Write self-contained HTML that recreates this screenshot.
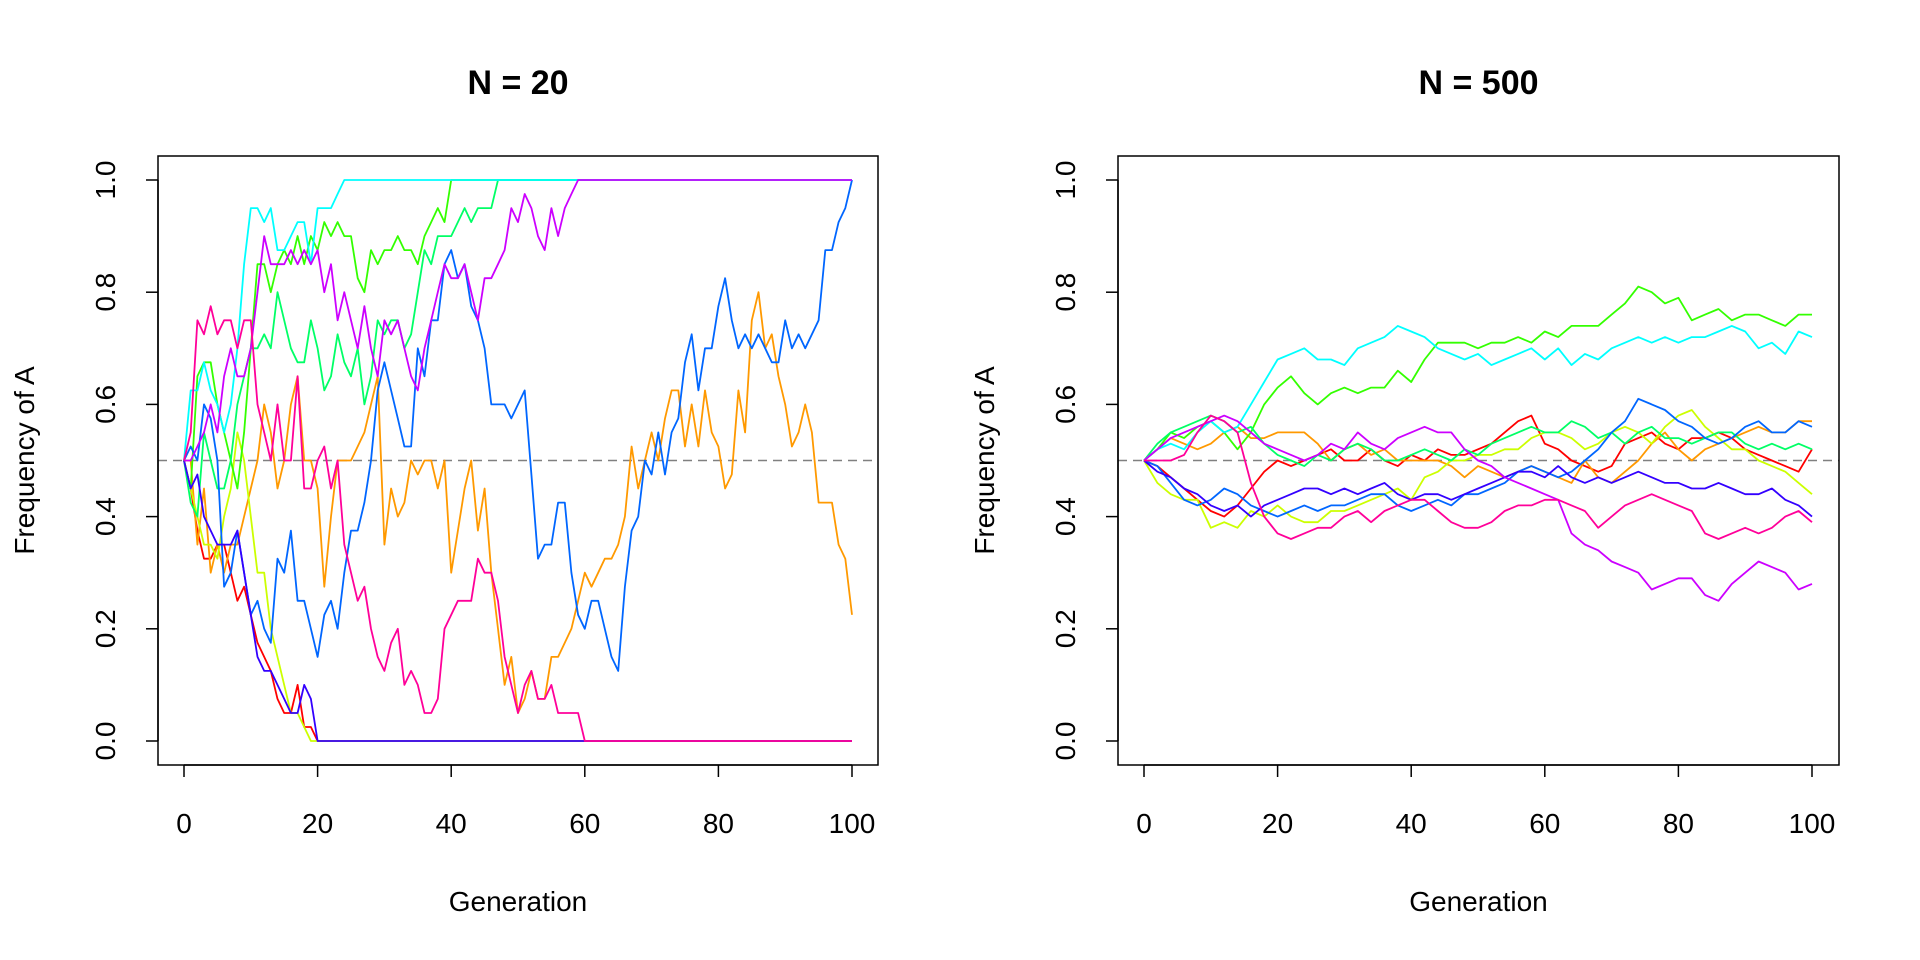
<!DOCTYPE html>
<html><head><meta charset="utf-8"><style>
html,body{margin:0;padding:0;background:#fff;}
svg{display:block;font-family:"Liberation Sans",sans-serif;}
</style></head><body>
<svg id="chart" width="1920" height="960" viewBox="0 0 1920 960"></svg>
<script>
const colors = ["#ff0000","#ff9900","#ccff00","#33ff00","#00ff66","#00ffff","#0066ff","#3300ff","#cc00ff","#ff0099"];
const xTicks = [0,20,40,60,80,100];
const yTicks = [0.0,0.2,0.4,0.6,0.8,1.0];
const yTickLabels = ["0.0","0.2","0.4","0.6","0.8","1.0"];
// Panel 1 (N=20): one value per generation; series reaching fixation hold at last value
const n20_red = [0.5,0.45,0.375,0.325,0.325,0.35,0.35,0.3,0.25,0.275,0.225,0.175,0.15,0.125,0.075,0.05,0.05,0.1,0.025,0.025,0];
const n20_orange = [0.5,0.5,0.35,0.45,0.3,0.35,0.3,0.35,0.35,0.4,0.45,0.5,0.6,0.55,0.45,0.5,0.6,0.65,0.5,0.5,0.45,0.275,0.4,0.5,0.5,0.5,0.525,0.55,0.6,0.65,0.35,0.45,0.4,0.425,0.5,0.475,0.5,0.5,0.45,0.5,0.3,0.375,0.45,0.5,0.375,0.45,0.3,0.2,0.1,0.15,0.05,0.075,0.125,0.075,0.075,0.15,0.15,0.175,0.2,0.25,0.3,0.275,0.3,0.325,0.325,0.35,0.4,0.525,0.45,0.5,0.55,0.5,0.575,0.625,0.625,0.525,0.6,0.525,0.625,0.55,0.525,0.45,0.475,0.625,0.55,0.75,0.8,0.7,0.725,0.65,0.6,0.525,0.55,0.6,0.55,0.425,0.425,0.425,0.35,0.325,0.225];
const n20_ygreen = [0.5,0.45,0.4,0.35,0.35,0.325,0.4,0.45,0.55,0.5,0.4,0.3,0.3,0.2,0.15,0.1,0.05,0.05,0.025,0];
const n20_green = [0.5,0.45,0.65,0.675,0.675,0.6,0.55,0.5,0.45,0.55,0.7,0.85,0.85,0.8,0.85,0.875,0.85,0.9,0.85,0.9,0.875,0.925,0.9,0.925,0.9,0.9,0.825,0.8,0.875,0.85,0.875,0.875,0.9,0.875,0.875,0.85,0.9,0.925,0.95,0.925,1];
const n20_mint = [0.5,0.425,0.4,0.55,0.5,0.45,0.45,0.5,0.6,0.65,0.7,0.7,0.725,0.7,0.8,0.75,0.7,0.675,0.675,0.75,0.7,0.625,0.65,0.725,0.675,0.65,0.7,0.6,0.65,0.75,0.725,0.75,0.75,0.7,0.725,0.8,0.875,0.85,0.9,0.9,0.9,0.925,0.95,0.925,0.95,0.95,0.95,1];
const n20_cyan = [0.5,0.625,0.625,0.675,0.625,0.6,0.55,0.6,0.7,0.85,0.95,0.95,0.925,0.95,0.875,0.875,0.9,0.925,0.925,0.85,0.95,0.95,0.95,0.975,1];
const n20_azure = [0.5,0.525,0.5,0.6,0.575,0.5,0.275,0.3,0.375,0.3,0.225,0.25,0.2,0.175,0.325,0.3,0.375,0.25,0.25,0.2,0.15,0.225,0.25,0.2,0.3,0.375,0.375,0.425,0.5,0.625,0.675,0.625,0.575,0.525,0.525,0.7,0.65,0.75,0.75,0.85,0.875,0.825,0.85,0.775,0.75,0.7,0.6,0.6,0.6,0.575,0.6,0.625,0.475,0.325,0.35,0.35,0.425,0.425,0.3,0.225,0.2,0.25,0.25,0.2,0.15,0.125,0.275,0.375,0.4,0.5,0.475,0.55,0.475,0.55,0.575,0.675,0.725,0.625,0.7,0.7,0.775,0.825,0.75,0.7,0.725,0.7,0.725,0.7,0.675,0.675,0.75,0.7,0.725,0.7,0.725,0.75,0.875,0.875,0.925,0.95,1.0];
const n20_indigo = [0.5,0.45,0.475,0.4,0.375,0.35,0.35,0.35,0.375,0.3,0.225,0.15,0.125,0.125,0.1,0.075,0.05,0.05,0.1,0.075,0,0];
const n20_purple = [0.5,0.5,0.525,0.55,0.6,0.55,0.65,0.7,0.65,0.65,0.7,0.8,0.9,0.85,0.85,0.85,0.875,0.85,0.875,0.85,0.875,0.8,0.85,0.75,0.8,0.75,0.7,0.775,0.7,0.65,0.75,0.725,0.75,0.7,0.65,0.625,0.7,0.75,0.8,0.85,0.825,0.825,0.85,0.8,0.75,0.825,0.825,0.85,0.875,0.95,0.925,0.975,0.95,0.9,0.875,0.95,0.9,0.95,0.975,1];
const n20_pink = [0.5,0.55,0.75,0.725,0.775,0.725,0.75,0.75,0.7,0.75,0.75,0.6,0.55,0.5,0.6,0.5,0.5,0.65,0.45,0.45,0.5,0.525,0.45,0.5,0.35,0.3,0.25,0.275,0.2,0.15,0.125,0.175,0.2,0.1,0.125,0.1,0.05,0.05,0.075,0.2,0.225,0.25,0.25,0.25,0.325,0.3,0.3,0.25,0.15,0.1,0.05,0.1,0.125,0.075,0.075,0.1,0.05,0.05,0.05,0.05,0];
// Panel 2 (N=500): values read every 2 generations
const n500_red = [0.5,0.49,0.47,0.45,0.43,0.41,0.4,0.42,0.45,0.48,0.5,0.49,0.5,0.51,0.52,0.5,0.5,0.52,0.5,0.49,0.51,0.5,0.52,0.51,0.51,0.52,0.53,0.55,0.57,0.58,0.53,0.52,0.5,0.49,0.48,0.49,0.53,0.54,0.55,0.53,0.52,0.54,0.54,0.55,0.54,0.52,0.51,0.5,0.49,0.48,0.52];
const n500_orange = [0.5,0.52,0.54,0.53,0.52,0.53,0.55,0.56,0.54,0.54,0.55,0.55,0.55,0.53,0.5,0.52,0.53,0.51,0.52,0.5,0.5,0.5,0.5,0.49,0.47,0.49,0.48,0.47,0.48,0.49,0.48,0.47,0.46,0.5,0.47,0.46,0.48,0.5,0.53,0.55,0.52,0.5,0.52,0.53,0.54,0.55,0.56,0.55,0.55,0.57,0.57];
const n500_ygreen = [0.5,0.46,0.44,0.43,0.43,0.38,0.39,0.38,0.41,0.4,0.42,0.4,0.39,0.39,0.41,0.41,0.42,0.43,0.44,0.45,0.43,0.47,0.48,0.5,0.5,0.51,0.51,0.52,0.52,0.54,0.55,0.55,0.54,0.52,0.53,0.55,0.56,0.55,0.53,0.56,0.58,0.59,0.56,0.54,0.52,0.52,0.5,0.49,0.48,0.46,0.44];
const n500_green = [0.5,0.52,0.55,0.54,0.56,0.57,0.55,0.52,0.55,0.6,0.63,0.65,0.62,0.6,0.62,0.63,0.62,0.63,0.63,0.66,0.64,0.68,0.71,0.71,0.71,0.7,0.71,0.71,0.72,0.71,0.73,0.72,0.74,0.74,0.74,0.76,0.78,0.81,0.8,0.78,0.79,0.75,0.76,0.77,0.75,0.76,0.76,0.75,0.74,0.76,0.76];
const n500_mint = [0.5,0.53,0.55,0.56,0.57,0.58,0.57,0.55,0.56,0.53,0.51,0.5,0.49,0.51,0.5,0.52,0.53,0.52,0.5,0.5,0.51,0.52,0.51,0.5,0.52,0.51,0.53,0.54,0.55,0.56,0.55,0.55,0.57,0.56,0.54,0.55,0.53,0.55,0.56,0.54,0.54,0.53,0.54,0.55,0.55,0.53,0.52,0.53,0.52,0.53,0.52];
const n500_cyan = [0.5,0.52,0.53,0.52,0.55,0.57,0.55,0.56,0.6,0.64,0.68,0.69,0.7,0.68,0.68,0.67,0.7,0.71,0.72,0.74,0.73,0.72,0.7,0.69,0.68,0.69,0.67,0.68,0.69,0.7,0.68,0.7,0.67,0.69,0.68,0.7,0.71,0.72,0.71,0.72,0.71,0.72,0.72,0.73,0.74,0.73,0.7,0.71,0.69,0.73,0.72];
const n500_azure = [0.5,0.49,0.46,0.43,0.42,0.43,0.45,0.44,0.42,0.41,0.4,0.41,0.42,0.41,0.42,0.42,0.43,0.44,0.44,0.42,0.41,0.42,0.43,0.42,0.44,0.44,0.45,0.46,0.48,0.49,0.48,0.47,0.48,0.5,0.52,0.55,0.57,0.61,0.6,0.59,0.57,0.56,0.54,0.53,0.54,0.56,0.57,0.55,0.55,0.57,0.56];
const n500_indigo = [0.5,0.48,0.47,0.45,0.44,0.42,0.41,0.42,0.4,0.42,0.43,0.44,0.45,0.45,0.44,0.45,0.44,0.45,0.46,0.44,0.43,0.44,0.44,0.43,0.44,0.45,0.46,0.47,0.48,0.48,0.47,0.49,0.47,0.46,0.47,0.46,0.47,0.48,0.47,0.46,0.46,0.45,0.45,0.46,0.45,0.44,0.44,0.45,0.43,0.42,0.40];
const n500_purple = [0.5,0.52,0.54,0.55,0.56,0.57,0.58,0.57,0.55,0.53,0.52,0.51,0.5,0.51,0.53,0.52,0.55,0.53,0.52,0.54,0.55,0.56,0.55,0.55,0.52,0.5,0.49,0.47,0.46,0.45,0.44,0.43,0.37,0.35,0.34,0.32,0.31,0.3,0.27,0.28,0.29,0.29,0.26,0.25,0.28,0.3,0.32,0.31,0.3,0.27,0.28];
const n500_pink = [0.5,0.5,0.5,0.51,0.55,0.58,0.57,0.55,0.46,0.4,0.37,0.36,0.37,0.38,0.38,0.4,0.41,0.39,0.41,0.42,0.43,0.43,0.41,0.39,0.38,0.38,0.39,0.41,0.42,0.42,0.43,0.43,0.42,0.41,0.38,0.4,0.42,0.43,0.44,0.43,0.42,0.41,0.37,0.36,0.37,0.38,0.37,0.38,0.4,0.41,0.39];

const NS="http://www.w3.org/2000/svg";
const svg=document.getElementById('chart');
function mk(tag,attrs,parent){const e=document.createElementNS(NS,tag);for(const k in attrs)e.setAttribute(k,attrs[k]);(parent||svg).appendChild(e);return e;}

function panel(p){
  const g=mk('g',{});
  
  
  const X=v=>p.x0+(v/100)*(p.x100-p.x0);
  const Y=v=>741+(v)*(180-741);
  const t=mk('text',{x:(p.bl+p.br)/2,y:94,'text-anchor':'middle','font-size':34,'font-weight':'bold',fill:'#000'},g);
  t.textContent=p.title;
  
  
  const ref=mk('line',{x1:p.bl,x2:p.br,y1:Y(0.5),y2:Y(0.5),stroke:'#808080','stroke-width':1.6,'stroke-dasharray':'9 6'},g);
  
  
  p.series.forEach((s,i)=>{
    const pts=s.map((v,j)=>[j*p.step,v]);
    const last=pts[pts.length-1];
    if(last[0]<100) pts.push([100,last[1]]);
    const d=pts.map((q,j)=>(j?'L':'M')+X(q[0]).toFixed(1)+' '+Y(q[1]).toFixed(1)).join(' ');
    const path=mk('path',{d:d,fill:'none',stroke:colors[i],'stroke-width':1.8,'stroke-linejoin':'round'},g);
    
    
  });
  const box=mk('rect',{x:p.bl,y:156,width:p.br-p.bl,height:765-156,fill:'none',stroke:'#000','stroke-width':1.5},g);
  
  
  const xa=mk('g',{},g);
  
  
  mk('line',{x1:X(0),x2:X(100),y1:765,y2:765,stroke:'#000','stroke-width':1.5},xa);
  xTicks.forEach(v=>{
    mk('line',{x1:X(v),x2:X(v),y1:765,y2:777,stroke:'#000','stroke-width':1.5},xa);
    const tl=mk('text',{x:X(v),y:833,'text-anchor':'middle','font-size':28,fill:'#000'},xa);
    tl.textContent=v;
    
    
  });
  const xt=mk('text',{x:(p.bl+p.br)/2,y:911,'text-anchor':'middle','font-size':28,fill:'#000'},g);
  xt.textContent='Generation';
  
  
  const ya=mk('g',{},g);
  
  
  mk('line',{x1:p.bl,x2:p.bl,y1:Y(0),y2:Y(1),stroke:'#000','stroke-width':1.5},ya);
  yTicks.forEach((v,i)=>{
    mk('line',{x1:p.bl-12,x2:p.bl,y1:Y(v),y2:Y(v),stroke:'#000','stroke-width':1.5},ya);
    const lx=p.bl-43, ly=Y(v);
    const tl=mk('text',{x:lx,y:ly,'text-anchor':'middle','font-size':28,fill:'#000',transform:`rotate(-90 ${lx} ${ly})`},ya);
    tl.textContent=yTickLabels[i];
    
    
  });
  const yx=p.bl-124, yy=(156+765)/2;
  const yt=mk('text',{x:yx,y:yy,'text-anchor':'middle','font-size':28,fill:'#000',transform:`rotate(-90 ${yx} ${yy})`},g);
  yt.textContent='Frequency of A';
  
  
}
panel({name:'panel-n20',title:'N = 20',bl:158,br:878,x0:184,x100:852,step:1,
  series:[n20_red,n20_orange,n20_ygreen,n20_green,n20_mint,n20_cyan,n20_azure,n20_indigo,n20_purple,n20_pink]});
panel({name:'panel-n500',title:'N = 500',bl:1118,br:1839,x0:1144,x100:1812,step:2,
  series:[n500_red,n500_orange,n500_ygreen,n500_green,n500_mint,n500_cyan,n500_azure,n500_indigo,n500_purple,n500_pink]});
</script>
</body></html>
